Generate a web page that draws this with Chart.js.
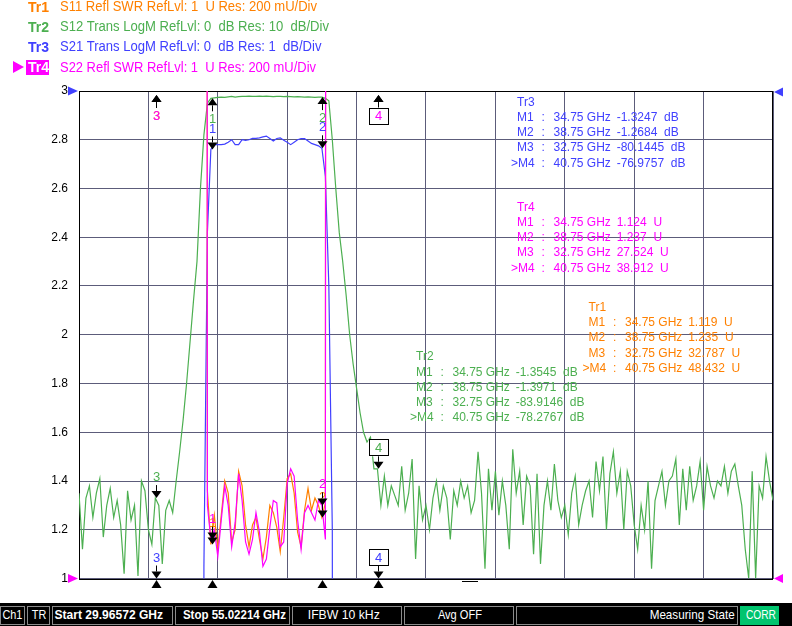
<!DOCTYPE html>
<html><head><meta charset="utf-8">
<script src="https://cdn.jsdelivr.net/npm/chart.js@4.4.1/dist/chart.umd.min.js"></script>
<style>
html,body{margin:0;padding:0;background:#fff;}
#wrap{position:relative;width:792px;height:626px;overflow:hidden;font-family:"Liberation Sans",Arial,sans-serif;}
#c{position:absolute;left:0;top:0;}
.t{position:absolute;white-space:pre;}
.hdr{font-size:13.8px;line-height:16px;transform-origin:0 50%;}
.hdrb{font-size:14px;line-height:16px;font-weight:bold;}
.ro{font-size:12px;line-height:14px;}
#status{position:absolute;left:0;top:603px;width:792px;height:23px;background:#000;}
.sb{position:absolute;top:3px;height:19px;box-sizing:border-box;border:1px solid #8a8a8a;}
.st{position:absolute;top:0;height:23px;line-height:23px;color:#fff;white-space:pre;font-family:"Liberation Sans",Arial,sans-serif;font-size:13.5px;transform-origin:50% 50%;}
</style></head>
<body><div id="wrap"><canvas id="c" width="792" height="626"></canvas><div id="overlay"></div><div id="status"></div></div>
<script>
// ---------------- data ----------------
const sweepStartGHz = 29.96572;
const sweepStopGHz = 55.02214;
const sweepPointCount = 201;

const traceNames = ['Tr1', 'Tr2', 'Tr3', 'Tr4'];
const traceDescriptions = [
  'S11 Refl SWR RefLvl: 1  U Res: 200 mU/Div',
  'S12 Trans LogM RefLvl: 0  dB Res: 10  dB/Div',
  'S21 Trans LogM RefLvl: 0  dB Res: 1  dB/Div',
  'S22 Refl SWR RefLvl: 1  U Res: 200 mU/Div'
];
const traceColors = ['#ff8000', '#4caf50', '#4040ff', '#ff00ff'];

// Tr2 S12 (display units of the left axis), full sweep
const tr2S12Values = [
  1.35, 1.12, 1.33, 1.38, 1.25, 1.35, 1.41, 1.17, 1.30, 1.37,
  1.25, 1.32, 1.22, 1.02, 1.36, 1.24, 1.30, 1.01, 1.40, 1.36,
  1.20, 1.14, 1.33, 1.30, 1.06, 1.28, 1.32, 1.27, 1.40, 1.52,
  1.65, 1.80, 1.97, 2.14, 2.30, 2.60, 2.82, 2.95, 2.970, 2.972,
  2.974, 2.975, 2.974, 2.976, 2.978, 2.975, 2.977, 2.978, 2.978, 2.979,
  2.978, 2.978, 2.979, 2.978, 2.979, 2.978, 2.977, 2.978, 2.978, 2.977,
  2.978, 2.977, 2.976, 2.977, 2.976, 2.975, 2.976, 2.975, 2.974, 2.975,
  2.975, 2.970, 2.96, 2.80, 2.60, 2.42, 2.30, 2.16, 2.00, 1.88,
  1.78, 1.68, 1.60, 1.56, 1.58, 1.45, 1.45, 1.30, 1.42, 1.30,
  1.38, 1.34, 1.30, 1.46, 1.28, 1.35, 1.49, 1.08, 1.38, 1.24,
  1.30, 1.20, 1.33, 1.40, 1.28, 1.38, 1.33, 1.16, 1.36, 1.30,
  1.40, 1.33, 1.38, 1.27, 1.32, 1.52, 1.35, 1.04, 1.45, 1.28,
  1.44, 1.26, 1.40, 1.30, 1.12, 1.53, 1.35, 1.44, 1.22, 1.42,
  1.38, 1.10, 1.43, 1.06, 1.30, 1.40, 1.28, 1.47, 1.32, 1.25,
  1.30, 1.18, 1.35, 1.42, 1.22, 1.30, 1.36, 1.40, 1.25, 1.48,
  1.36, 1.50, 1.20, 1.43, 1.52, 1.35, 1.44, 1.20, 1.44, 1.38,
  1.22, 1.12, 1.30, 1.20, 1.40, 1.04, 1.32, 1.38, 1.44, 1.30,
  1.40, 1.42, 1.49, 1.22, 1.45, 1.28, 1.46, 1.32, 1.38, 1.48,
  1.28, 1.46, 1.38, 1.33, 1.40, 1.38, 1.46, 1.35, 1.44, 1.47,
  1.38, 1.30, 1.12, 1.00, 1.44, 1.00, 1.38, 1.33, 1.50, 1.40,
  1.32
];

// Tr3 S21 (display units), visible part of sweep starting at point 35
const tr3StartIndex = 35;
const tr3S21Values = [
  -14, 1.05, 2.42, 2.76,
  2.780, 2.780, 2.780, 2.782, 2.790, 2.800, 2.780, 2.780, 2.800, 2.797, 2.800,
  2.806, 2.806, 2.808, 2.812, 2.815, 2.805, 2.795, 2.805, 2.808, 2.798,
  2.790, 2.780, 2.790, 2.800, 2.805, 2.805, 2.795, 2.785, 2.780, 2.775,
  2.765, 2.65, 2.20, 1.20, -14
];

// Tr1 S11 SWR, visible part starting at point 36
const tr1StartIndex = 36;
const tr1S11Values = [
  30,
  1.36, 1.14, 1.26, 1.12, 1.26, 1.40, 1.35, 1.15, 1.20, 1.44,
  1.38, 1.22, 1.13, 1.22, 1.25, 1.16, 1.08, 1.17, 1.30, 1.27,
  1.21, 1.11, 1.25, 1.41, 1.43, 1.35, 1.19, 1.13, 1.28, 1.37,
  1.28, 1.33, 1.30, 1.25, 1.31,
  30
];

// Tr4 S22 SWR, visible part starting at point 36
const tr4StartIndex = 36;
const tr4S22Values = [
  30,
  1.30, 1.16, 1.20, 1.09, 1.24, 1.38, 1.30, 1.13, 1.23, 1.43,
  1.32, 1.15, 1.10, 1.16, 1.27, 1.19, 1.05, 1.08, 1.21, 1.32,
  1.31, 1.13, 1.15, 1.39, 1.45, 1.42, 1.24, 1.12, 1.27, 1.30,
  1.27, 1.24, 1.32, 1.30, 1.16,
  30
];

const markerNames = ['M1', 'M2', 'M3', 'M4'];
const markerFreqsGHz = [34.75, 38.75, 32.75, 40.75];
const activeMarkerIndex = 3;
const tr1Readouts = ['1.119', '1.235', '32.787', '48.432'];
const tr2Readouts = ['-1.3545', '-1.3971', '-83.9146', '-78.2767'];
const tr3Readouts = ['-1.3247', '-1.2684', '-80.1445', '-76.9757'];
const tr4Readouts = ['1.124', '1.237', '27.524', '38.912'];

const yTickValues = [1, 1.2, 1.4, 1.6, 1.8, 2, 2.2, 2.4, 2.6, 2.8, 3];
const yTickLabels = ['1', '1.2', '1.4', '1.6', '1.8', '2', '2.2', '2.4', '2.6', '2.8', '3'];

// status bar: [text, boxLeft, boxWidth, textCenter, textWidth, bold, background]
const statusItems = [
  ['Ch1', 0, 25, 12.8, 20, false, null],
  ['TR', 27, 23, 39.3, 14.5, false, null],
  ['Start 29.96572 GHz', 52, 121, 108.8, 108.5, true, null],
  ['Stop 55.02214 GHz', 175, 115, 234.5, 103, true, null],
  ['IFBW 10 kHz', 292, 110, 344, 72, false, null],
  ['Avg OFF', 404, 110, 460, 44, false, null],
  ['Measuring State', 516, 222, 692.5, 85, false, null],
  ['CORR', 740, 39, 761, 30, false, '#00c46e']
];
const headerRightEdges = [317, 329, 321.5, 316];

// ---------------- build ----------------
const sweepStep = (sweepStopGHz - sweepStartGHz) / (sweepPointCount - 1);
const sweepFreq = i => sweepStartGHz + i * sweepStep;
const xGridValues = Array.from({length: 11}, (_, k) => sweepStartGHz + k * (sweepStopGHz - sweepStartGHz) / 10);
const toPoints = (start, vals) => vals.map((v, k) => ({x: sweepFreq(start + k), y: v}));

const traces = {
  tr1: {start: tr1StartIndex, vals: tr1S11Values, color: traceColors[0], readouts: tr1Readouts, unit: 'U', conv: v => v},
  tr2: {start: 0, vals: tr2S12Values, color: traceColors[1], readouts: tr2Readouts, unit: 'dB', conv: v => 3 + v * 0.02},
  tr3: {start: tr3StartIndex, vals: tr3S21Values, color: traceColors[2], readouts: tr3Readouts, unit: 'dB', conv: v => 3 + v * 0.2},
  tr4: {start: tr4StartIndex, vals: tr4S22Values, color: traceColors[3], readouts: tr4Readouts, unit: 'U', conv: v => v}
};
function markerValue(tr, f, m) {
  const idx = Math.round((f - sweepStartGHz) / sweepStep) - tr.start;
  if (idx >= 0 && idx < tr.vals.length && Math.abs(tr.vals[idx]) < 20) return tr.vals[idx];
  return tr.conv(parseFloat(tr.readouts[m]));
}

const ov = document.getElementById('overlay');
function addText(txt, left, top, cls, color, extra, parent) {
  const d = document.createElement('div');
  d.className = 't ' + cls; d.textContent = txt;
  d.style.left = left + 'px'; d.style.top = top + 'px'; d.style.color = color;
  if (extra) Object.assign(d.style, extra);
  (parent || ov).appendChild(d); return d;
}

// header
const hdrCenters = [6.7, 26.9, 47.4, 67.7];
const headerDivs = [];
traceNames.forEach((n, i) => {
  if (i === 3) {
    addText(n, 26, hdrCenters[i] - 8, 'hdrb', '#fff', {background: traceColors[3], width: '23px', height: '15px', lineHeight: '15px', paddingLeft: '2px', boxSizing: 'border-box'});
  } else {
    addText(n, 28, hdrCenters[i] - 8, 'hdrb', traceColors[i]);
  }
  headerDivs.push(addText(traceDescriptions[i], 60, hdrCenters[i] - 8, 'hdr', traceColors[i]));
});
// active trace pointer
(function(){
  const d = document.createElement('div');
  d.style.cssText = 'position:absolute;left:13px;top:61px;width:0;height:0;border-top:6px solid transparent;border-bottom:6px solid transparent;border-left:11px solid ' + traceColors[3] + ';';
  ov.appendChild(d);
})();

// marker readout tables
const readoutBlocks = [
  {tr: traces.tr3, name: 'Tr3', x0: 517, y0: 101.7},
  {tr: traces.tr4, name: 'Tr4', x0: 517, y0: 206.7},
  {tr: traces.tr1, name: 'Tr1', x0: 588.5, y0: 306.9},
  {tr: traces.tr2, name: 'Tr2', x0: 416, y0: 356.4}
];
readoutBlocks.forEach(b => {
  addText(b.name, b.x0, b.y0 - 7, 'ro', b.tr.color);
  markerNames.forEach((mn, m) => {
    const cy = b.y0 + 15.2 * (m + 1) - 7;
    const active = m === activeMarkerIndex;
    addText(active ? '>' + mn : mn, active ? b.x0 - 6 : b.x0, cy, 'ro', b.tr.color);
    addText(':', b.x0 + 24.5, cy, 'ro', b.tr.color);
    addText(markerFreqsGHz[m].toFixed(2) + ' GHz', b.x0 + 36.5, cy, 'ro', b.tr.color);
    addText(b.tr.readouts[m] + '  ' + b.tr.unit, b.x0 + 99.7, cy, 'ro', b.tr.color);
  });
});

// status bar
const sb = document.getElementById('status');
const statusDivs = [];
statusItems.forEach(([txt, left, w, cx, tw, bold, bg]) => {
  const box = document.createElement('div');
  box.className = 'sb';
  box.style.left = left + 'px'; box.style.width = w + 'px';
  if (bg) { box.style.background = bg; box.style.borderColor = bg; }
  sb.appendChild(box);
  const s = document.createElement('div');
  s.className = 'st'; s.textContent = txt;
  if (bold) s.style.fontWeight = 'bold';
  s.style.left = (cx - tw / 2) + 'px';
  sb.appendChild(s);
  statusDivs.push([s, cx, tw]);
});

function fitTexts() {
  headerDivs.forEach((d, i) => {
    d.style.transform = 'none';
    const w = d.getBoundingClientRect().width;
    if (w > 0) d.style.transform = 'scaleX(' + ((headerRightEdges[i] - 60) / w).toFixed(4) + ')';
  });
  statusDivs.forEach(([s, cx, tw]) => {
    s.style.transform = 'none';
    const mw = s.getBoundingClientRect().width;
    s.style.left = (cx - mw / 2) + 'px';
    if (mw > 0) s.style.transform = 'scaleX(' + (tw / mw).toFixed(4) + ')';
  });
}
fitTexts();

// ---------------- chart ----------------
const gridColor = '#5c5c7a';
function tri(ctx, x, tipY, dir, w, h) {
  ctx.beginPath();
  ctx.moveTo(x, tipY);
  ctx.lineTo(x - w / 2, tipY - dir * h);
  ctx.lineTo(x + w / 2, tipY - dir * h);
  ctx.closePath(); ctx.fill();
}
const framePlugin = {
  id: 'frame',
  beforeDatasetsDraw(chart) {
    const {ctx, chartArea: a} = chart;
    ctx.save();
    ctx.strokeStyle = '#000'; ctx.lineWidth = 1;
    ctx.strokeRect(Math.round(a.left) + 0.5, Math.round(a.top) + 0.5, Math.round(a.right - a.left) - 1, Math.round(a.bottom - a.top));
    ctx.restore();
  },
  afterDatasetsDraw(chart) {
    const {ctx, chartArea: a, scales: {x, y}} = chart;
    ctx.save();
    ctx.font = '13px "Liberation Sans", Arial, sans-serif';
    ctx.textAlign = 'center'; ctx.textBaseline = 'middle';
    const order = [traces.tr2, traces.tr3, traces.tr1, traces.tr4];
    order.forEach(tr => {
      markerFreqsGHz.forEach((f, m) => {
        const px = Math.round(x.getPixelForValue(f)) + 0.5;
        const v = markerValue(tr, f, m);
        const py = y.getPixelForValue(v);
        let tipY, dir;
        if (py < a.top + 4) { tipY = a.top + 4; dir = -1; }
        else if (py > a.bottom) { tipY = a.bottom; dir = 1; }
        else if (py < a.top + 24) { tipY = py; dir = -1; }
        else { tipY = py; dir = 1; }
        ctx.fillStyle = '#000'; ctx.strokeStyle = '#000'; ctx.lineWidth = 1;
        tri(ctx, px, tipY, dir, 10, 7);
        ctx.beginPath(); ctx.moveTo(px, tipY - dir * 7); ctx.lineTo(px, tipY - dir * 13); ctx.stroke();
        const cy = tipY - dir * 21;
        const label = String(m + 1);
        if (m === activeMarkerIndex) {
          ctx.fillStyle = '#fff';
          ctx.fillRect(px - 10, cy - 8.5, 20, 17);
          ctx.strokeRect(Math.round(px - 10) + 0.5, Math.round(cy - 8.5) + 0.5, 19, 16);
        }
        ctx.fillStyle = tr.color;
        ctx.fillText(label, px, cy + 0.5);
      });
    });
    // stimulus indicators below axis
    ctx.fillStyle = '#000';
    markerFreqsGHz.forEach(f => {
      const px = Math.round(x.getPixelForValue(f)) + 0.5;
      tri(ctx, px, a.bottom + 1.5, -1, 10, 8);
    });
    ctx.restore();
  },
  afterDraw(chart) {
    const {ctx, chartArea: a} = chart;
    ctx.save();
    const L = a.left, R = a.right, T = a.top, B = a.bottom;
    const side = (col, xb, xt, yc) => { ctx.fillStyle = col; ctx.beginPath(); ctx.moveTo(xb, yc - 4.5); ctx.lineTo(xb, yc + 4.5); ctx.lineTo(xt, yc); ctx.closePath(); ctx.fill(); };
    side(traceColors[2], L - 11, L - 1, T);
    side(traceColors[3], L - 11, L - 1, B);
    side(traceColors[2], R + 10, R + 1, T + 1);
    side(traceColors[3], R + 10, R + 1, B);
    ctx.strokeStyle = '#000'; ctx.lineWidth = 1;
    ctx.beginPath(); ctx.moveTo(462, B + 3); ctx.lineTo(478, B + 3); ctx.stroke();
    ctx.restore();
  }
};

const chart = new Chart(document.getElementById('c'), {
  type: 'line',
  data: {
    datasets: [
      {data: toPoints(tr4StartIndex, tr4S22Values), borderColor: traceColors[3], order: 0},
      {data: toPoints(tr1StartIndex, tr1S11Values), borderColor: traceColors[0], order: 1},
      {data: toPoints(tr3StartIndex, tr3S21Values), borderColor: traceColors[2], order: 2},
      {data: toPoints(0, tr2S12Values), borderColor: traceColors[1], order: 3}
    ]
  },
  options: {
    responsive: false, animation: false, devicePixelRatio: 1,
    layout: {padding: {top: 91, right: 19, bottom: 47.5, left: 0}},
    elements: {point: {radius: 0, hoverRadius: 0}, line: {tension: 0, borderWidth: 1.2, fill: false}},
    plugins: {legend: {display: false}, tooltip: {enabled: false}},
    events: [],
    scales: {
      x: {
        type: 'linear', min: sweepStartGHz, max: sweepStopGHz,
        afterBuildTicks: s => { s.ticks = xGridValues.map(v => ({value: v})); },
        ticks: {display: false},
        grid: {color: gridColor, lineWidth: 1, drawTicks: false},
        border: {display: false},
        afterFit: s => { s.height = 0; }
      },
      y: {
        type: 'linear', min: 1, max: 3,
        afterBuildTicks: s => { s.ticks = yTickValues.map(v => ({value: v})); },
        ticks: {callback: (v, i) => yTickLabels[i], color: '#000', padding: 11,
                font: {family: '"Liberation Sans", Arial, sans-serif', size: 12}},
        grid: {color: gridColor, lineWidth: 1, drawTicks: false},
        border: {display: false},
        afterFit: s => { s.width = 79; }
      }
    }
  },
  plugins: [framePlugin]
});

if (document.fonts) {
  Promise.all([
    document.fonts.load('13.8px "Liberation Sans"'),
    document.fonts.load('bold 13.5px "Liberation Sans"'),
    document.fonts.load('12px "Liberation Sans"')
  ]).then(() => document.fonts.ready).then(() => { fitTexts(); chart.update('none'); });
}
</script>
</body></html>
